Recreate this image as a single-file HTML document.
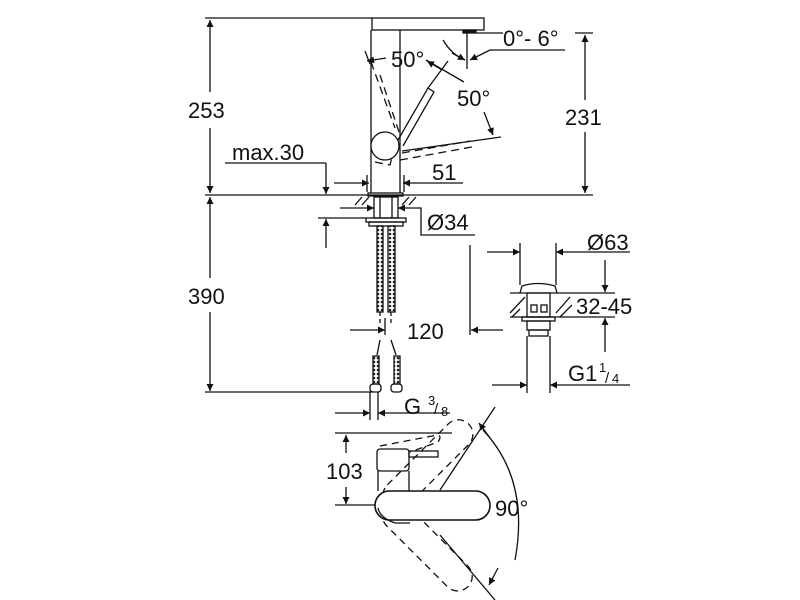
<!DOCTYPE html>
<html><head><style>html,body{margin:0;padding:0;background:#fff}svg{display:block}text{font-family:"Liberation Sans",sans-serif;fill:#111}</style></head>
<body>
<svg width="800" height="600" viewBox="0 0 800 600" xmlns="http://www.w3.org/2000/svg">
<defs>
<marker id="a" viewBox="0 0 10 10" refX="10" refY="5" markerWidth="14" markerHeight="7" orient="auto-start-reverse" markerUnits="userSpaceOnUse"><path d="M0,0L10,5L0,10z" fill="#111"/></marker>
<pattern id="hose" width="4" height="4" patternUnits="userSpaceOnUse"><rect width="4" height="4" fill="#fff"/><circle cx="2" cy="2" r="1.3" fill="#222"/></pattern>
</defs>
<g stroke="#111" stroke-width="1.3" fill="none">
<!-- 253 dim -->
<line x1="205" y1="18" x2="372" y2="18"/>
<line x1="210" y1="20" x2="210" y2="92" marker-start="url(#a)"/>
<line x1="210" y1="128" x2="210" y2="193" marker-end="url(#a)"/>
<line x1="205" y1="195" x2="593" y2="195"/>
<!-- spout -->
<rect x="372" y="18" width="112" height="12"/>
<rect x="463" y="30" width="13" height="3" fill="#111"/>
<line x1="476" y1="33" x2="503" y2="33"/>
<line x1="467" y1="33" x2="467" y2="69"/>
<path d="M443,40 Q452,55 465,60"/>
<line x1="452" y1="53" x2="465" y2="60" marker-end="url(#a)"/>
<line x1="565" y1="50" x2="490" y2="50"/>
<line x1="490" y1="50" x2="470" y2="60" marker-end="url(#a)"/>
<!-- 231 dim -->
<line x1="575" y1="33" x2="593" y2="33"/>
<line x1="585" y1="35" x2="585" y2="100" marker-start="url(#a)"/>
<line x1="585" y1="132" x2="585" y2="193" marker-end="url(#a)"/>
<!-- body -->
<line x1="371" y1="30" x2="371" y2="193"/>
<line x1="400" y1="30" x2="400" y2="193"/>
<rect x="368" y="193" width="35" height="3"/>
<circle cx="385" cy="146" r="14" fill="#fff"/>
<!-- lever -->
<path d="M398,140 L428,88 L434,92 L403,146"/>
<line x1="428" y1="88" x2="448" y2="61"/>
<g stroke-dasharray="8,5">
<path d="M371,62 L395,128 M380,75 L400,135"/>
<path d="M402,153 L470,141 M400,160 L472,147"/>
<path d="M375,162 L390,165 L392,157"/>
</g>
<line x1="402" y1="151" x2="501" y2="137"/>
<line x1="365" y1="51" x2="370" y2="64"/>
<line x1="386" y1="58" x2="367" y2="61" marker-end="url(#a)"/>
<line x1="464" y1="82" x2="426" y2="60"/>
<line x1="442" y1="70" x2="427" y2="61" marker-end="url(#a)"/>
<line x1="484" y1="112" x2="493" y2="135" marker-end="url(#a)"/>
<!-- max.30 -->
<line x1="225" y1="163" x2="326" y2="163"/>
<line x1="326" y1="163" x2="326" y2="194" marker-end="url(#a)"/>
<!-- 51 -->
<line x1="334" y1="183" x2="369" y2="183" marker-end="url(#a)"/>
<line x1="463" y1="183" x2="403" y2="183" marker-end="url(#a)"/>
<line x1="367" y1="175" x2="367" y2="192"/>
<line x1="404" y1="175" x2="404" y2="192"/>
<!-- hatching -->
<path d="M355,205 L362,197 M362,205 L369,197 M402,205 L409,197 M409,205 L416,197"/>
<rect x="374" y="197" width="24" height="21"/>
<line x1="380" y1="197" x2="380" y2="218"/><line x1="392" y1="197" x2="392" y2="218"/>
<line x1="340" y1="208" x2="374" y2="208" marker-end="url(#a)"/>
<line x1="418" y1="208" x2="398" y2="208" marker-end="url(#a)"/>
<path d="M418,208 L421,208 L421,235 L475,235"/>
<rect x="366" y="218" width="40" height="4"/>
<rect x="369" y="222" width="34" height="4"/>
<line x1="318" y1="218" x2="366" y2="218"/>
<line x1="326" y1="248" x2="326" y2="219" marker-end="url(#a)"/>
<!-- hoses -->
<rect x="377" y="226" width="6" height="86" fill="url(#hose)"/>
<rect x="388" y="226" width="7" height="86" fill="url(#hose)"/>
<g stroke-dasharray="4,3"><line x1="380" y1="312" x2="380" y2="325"/><line x1="391" y1="312" x2="391" y2="325"/></g>
<path d="M380,340 L377,355 M391,340 L396,355"/>
<rect x="373" y="356" width="6" height="28" fill="url(#hose)"/>
<rect x="394" y="356" width="6" height="28" fill="url(#hose)"/>
<rect x="370" y="384" width="11" height="8" rx="3"/>
<rect x="391" y="384" width="11" height="8" rx="3"/>
<!-- 390 -->
<line x1="210" y1="197" x2="210" y2="278" marker-start="url(#a)"/>
<line x1="210" y1="312" x2="210" y2="391" marker-end="url(#a)"/>
<line x1="205" y1="392" x2="372" y2="392"/>
<!-- 120 -->
<line x1="350" y1="330" x2="385" y2="330" marker-end="url(#a)"/>
<line x1="385" y1="318" x2="385" y2="335"/>
<line x1="470" y1="245" x2="470" y2="335"/>
<line x1="503" y1="330" x2="471" y2="330" marker-end="url(#a)"/>
<!-- G 3/8 -->
<line x1="370" y1="392" x2="370" y2="420"/><line x1="378" y1="392" x2="378" y2="420"/>
<line x1="335" y1="413" x2="370" y2="413" marker-end="url(#a)"/>
<line x1="450" y1="413" x2="378" y2="413" marker-end="url(#a)"/>
<!-- drain -->
<line x1="520" y1="243" x2="520" y2="285"/><line x1="556" y1="243" x2="556" y2="285"/>
<line x1="487" y1="252" x2="520" y2="252" marker-end="url(#a)"/>
<line x1="630" y1="252" x2="556" y2="252" marker-end="url(#a)"/>
<path d="M520,293 L522,286 Q538,281 555,286 L557,293"/>
<line x1="510" y1="293" x2="615" y2="293"/>
<line x1="510" y1="317" x2="615" y2="317"/>
<path d="M510,313 L525,297 M512,317 L520,309 M556,313 L570,297 M560,317 L572,305"/>
<rect x="527" y="293" width="23" height="24"/>
<rect x="531" y="305" width="6" height="7"/><rect x="541" y="305" width="6" height="7"/>
<rect x="522" y="317" width="33" height="4"/>
<rect x="527" y="321" width="23" height="9"/>
<rect x="529" y="330" width="19" height="6"/>
<line x1="527" y1="336" x2="527" y2="393"/><line x1="550" y1="336" x2="550" y2="393"/>
<line x1="605" y1="260" x2="605" y2="292" marker-end="url(#a)"/>
<line x1="605" y1="352" x2="605" y2="318" marker-end="url(#a)"/>
<line x1="492" y1="385" x2="527" y2="385" marker-end="url(#a)"/>
<line x1="630" y1="385" x2="550" y2="385" marker-end="url(#a)"/>
<!-- top view -->
<line x1="335" y1="433" x2="452" y2="433"/>
<line x1="346" y1="435" x2="346" y2="453" marker-start="url(#a)"/>
<line x1="346" y1="487" x2="346" y2="504" marker-end="url(#a)"/>
<line x1="335" y1="505" x2="380" y2="505"/>
<rect x="377" y="449" width="32" height="22" rx="3"/>
<rect x="409" y="451" width="29" height="6"/>
<line x1="378" y1="471" x2="378" y2="491"/><line x1="409" y1="471" x2="409" y2="491"/>
<g stroke-dasharray="7,5">
<path d="M380,446 L432,436 Q444,433 438,442 L410,452"/>
<rect x="387" y="491" width="115" height="29" rx="14.5" transform="rotate(-45 387 505)"/>
<rect x="387" y="491" width="115" height="29" rx="14.5" transform="rotate(45 387 505)"/>
</g>
<rect x="375" y="491" width="115" height="29" rx="14.5" fill="#fff" stroke-width="1.6"/>
<path d="M378,508 Q380,518 395,523 L410,523"/>
<line x1="440" y1="490" x2="495" y2="407"/>
<line x1="440" y1="535" x2="495" y2="600"/>
<path d="M483,430 Q530,480 515,560"/>
<line x1="490" y1="438" x2="479" y2="423" marker-end="url(#a)"/>
<line x1="498" y1="568" x2="489" y2="585" marker-end="url(#a)"/>
</g>
<g font-size="22">
<text x="188" y="118">253</text>
<text x="188" y="304">390</text>
<text x="565" y="125">231</text>
<text x="232" y="160">max.30</text>
<text x="432" y="180">51</text>
<text x="427" y="230">Ø34</text>
<text x="587" y="250">Ø63</text>
<text x="576" y="314">32-45</text>
<text x="407" y="339">120</text>
<text x="503" y="46">0°- 6°</text>
<text x="391" y="67">50°</text>
<text x="457" y="106">50°</text>
<text x="568" y="381">G1</text><text x="599" y="372" font-size="13">1</text><text x="605" y="383" font-size="15">/</text><text x="612" y="383" font-size="13">4</text>
<text x="404" y="414">G</text><text x="428" y="405" font-size="13">3</text><text x="434" y="414" font-size="15">/</text><text x="441" y="416" font-size="13">8</text>
<text x="326" y="479">103</text>
<text x="495" y="516">90°</text>
</g>
</svg>
</body></html>
